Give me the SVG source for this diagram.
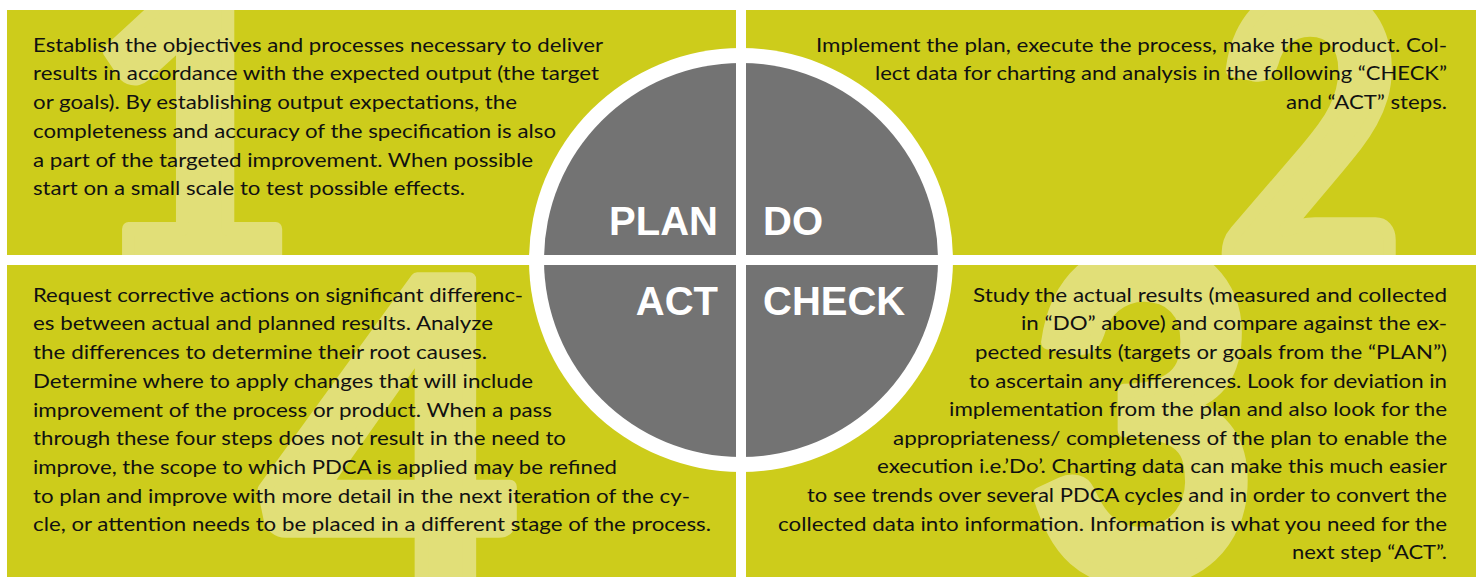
<svg xmlns="http://www.w3.org/2000/svg" width="1480" height="577" viewBox="0 0 1480 577">
<style>
.panel{fill:#cdcc1b}
.num{fill:#e1df78;stroke:#e1df78;stroke-width:14;stroke-linejoin:round;font-family:Lato,"Open Sans",sans-serif;font-weight:700;text-anchor:middle}
.body{fill:#111;font-family:Lato,"Open Sans",sans-serif;font-size:20px}
.lbl{fill:#fff;font-family:"Liberation Sans",Arial,sans-serif;font-weight:700;font-size:40px}
</style>
<defs>
<clipPath id="cTL"><rect x="7" y="10" width="729" height="245"/></clipPath>
<clipPath id="cTR"><rect x="746" y="10" width="730" height="245"/></clipPath>
<clipPath id="cBL"><rect x="7" y="265" width="729" height="312"/></clipPath>
<clipPath id="cBR"><rect x="746" y="265" width="730" height="312"/></clipPath>
</defs>
<rect width="1480" height="577" fill="#fff"/>

<g id="panel-plan">
<rect class="panel" x="7" y="10" width="729" height="245"/>
<g clip-path="url(#cTL)"><text class="num" x="0" y="266" font-size="400" transform="translate(192,0) scale(0.92,1)">1</text></g>
</g>
<g id="panel-do">
<rect class="panel" x="746" y="10" width="730" height="245"/>
<g clip-path="url(#cTR)"><text class="num" x="0" y="268" font-size="380" transform="translate(1310,0) scale(0.86,1)">2</text></g>
</g>
<g id="panel-act">
<rect class="panel" x="7" y="265" width="729" height="312"/>
<g clip-path="url(#cBL)"><text class="num" x="0" y="612" font-size="460" transform="translate(392,0) scale(0.97,1)">4</text></g>
</g>
<g id="panel-check">
<rect class="panel" x="746" y="265" width="730" height="312"/>
<g clip-path="url(#cBR)"><text class="num" x="0" y="577" font-size="450" transform="translate(1143,0) scale(0.9,1)">3</text></g>
</g>

<g id="connectors"/>

<g id="cycle">
<circle cx="741" cy="260" r="212" fill="#fff"/>
<circle cx="741" cy="260" r="197" fill="#737373"/>
<rect x="736" y="40" width="10" height="440" fill="#fff"/>
<rect x="520" y="255" width="442" height="10" fill="#fff"/>
<text class="lbl" x="718" y="235" text-anchor="end">PLAN</text>
<text class="lbl" x="763" y="235">DO</text>
<text class="lbl" x="718" y="315" text-anchor="end">ACT</text>
<text class="lbl" x="763" y="315">CHECK</text>
</g>

<g id="text-plan" class="body">
<text x="33" y="51.7" textLength="570" lengthAdjust="spacingAndGlyphs">Establish the objectives and processes necessary to deliver</text>
<text x="33" y="80.4" textLength="566" lengthAdjust="spacingAndGlyphs">results in accordance with the expected output (the target</text>
<text x="33" y="109.1" textLength="484" lengthAdjust="spacingAndGlyphs">or goals). By establishing output expectations, the</text>
<text x="33" y="137.8" textLength="523" lengthAdjust="spacingAndGlyphs">completeness and accuracy of the specification is also</text>
<text x="33" y="166.5" textLength="500" lengthAdjust="spacingAndGlyphs">a part of the targeted improvement. When possible</text>
<text x="33" y="195.2" textLength="432" lengthAdjust="spacingAndGlyphs">start on a small scale to test possible effects.</text>
</g>
<g id="text-do" class="body">
<text x="816" y="51.7" textLength="631" lengthAdjust="spacingAndGlyphs">Implement the plan, execute the process, make the product. Col-</text>
<text x="875" y="80.4" textLength="572" lengthAdjust="spacingAndGlyphs">lect data for charting and analysis in the following “CHECK”</text>
<text x="1286" y="109.1" textLength="161" lengthAdjust="spacingAndGlyphs">and “ACT” steps.</text>
</g>
<g id="text-act" class="body">
<text x="33" y="301.7" textLength="490" lengthAdjust="spacingAndGlyphs">Request corrective actions on significant differenc-</text>
<text x="33" y="330.4" textLength="460" lengthAdjust="spacingAndGlyphs">es between actual and planned results. Analyze</text>
<text x="33" y="359.1" textLength="454" lengthAdjust="spacingAndGlyphs">the differences to determine their root causes.</text>
<text x="33" y="387.8" textLength="500" lengthAdjust="spacingAndGlyphs">Determine where to apply changes that will include</text>
<text x="33" y="416.5" textLength="519" lengthAdjust="spacingAndGlyphs">improvement of the process or product. When a pass</text>
<text x="33" y="445.2" textLength="533" lengthAdjust="spacingAndGlyphs">through these four steps does not result in the need to</text>
<text x="33" y="473.9" textLength="584" lengthAdjust="spacingAndGlyphs">improve, the scope to which PDCA is applied may be refined</text>
<text x="33" y="502.6" textLength="657" lengthAdjust="spacingAndGlyphs">to plan and improve with more detail in the next iteration of the cy-</text>
<text x="33" y="531.3" textLength="678" lengthAdjust="spacingAndGlyphs">cle, or attention needs to be placed in a different stage of the process.</text>
</g>
<g id="text-check" class="body">
<text x="973" y="301.7" textLength="474" lengthAdjust="spacingAndGlyphs">Study the actual results (measured and collected</text>
<text x="1021" y="330.3" textLength="426" lengthAdjust="spacingAndGlyphs">in “DO” above) and compare against the ex-</text>
<text x="975" y="358.9" textLength="472" lengthAdjust="spacingAndGlyphs">pected results (targets or goals from the “PLAN”)</text>
<text x="969" y="387.5" textLength="478" lengthAdjust="spacingAndGlyphs">to ascertain any differences. Look for deviation in</text>
<text x="949" y="416.1" textLength="498" lengthAdjust="spacingAndGlyphs">implementation from the plan and also look for the</text>
<text x="893" y="444.7" textLength="554" lengthAdjust="spacingAndGlyphs">appropriateness/ completeness of the plan to enable the</text>
<text x="877" y="473.3" textLength="570" lengthAdjust="spacingAndGlyphs">execution i.e.’Do’. Charting data can make this much easier</text>
<text x="807" y="501.9" textLength="640" lengthAdjust="spacingAndGlyphs">to see trends over several PDCA cycles and in order to convert the</text>
<text x="778" y="530.5" textLength="669" lengthAdjust="spacingAndGlyphs">collected data into information. Information is what you need for the</text>
<text x="1292" y="559.1" textLength="155" lengthAdjust="spacingAndGlyphs">next step “ACT”.</text>
</g>
</svg>
